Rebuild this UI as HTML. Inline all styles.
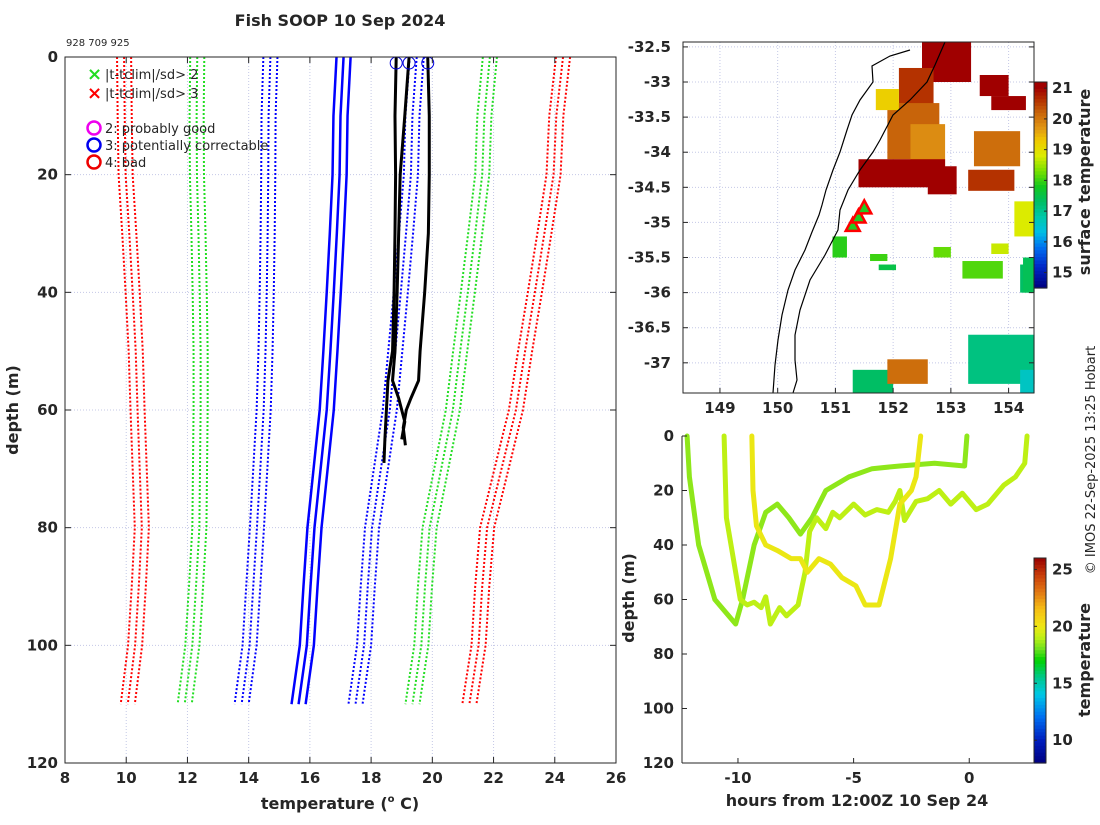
<!DOCTYPE html>
<html><head><meta charset="utf-8"><style>
html,body{margin:0;padding:0;background:#fff}
svg text{font-family:"DejaVu Sans","Liberation Sans",sans-serif;fill:#262626}
.tk{font-size:15px;font-weight:bold}
.lb{font-size:16px;font-weight:bold}
</style></head><body>
<svg id="fig" width="1100" height="820" viewBox="0 0 1100 820" xmlns="http://www.w3.org/2000/svg">
<rect width="1100" height="820" fill="#fff"/>
<text x="340" y="26" text-anchor="middle" font-size="16" font-weight="bold">Fish SOOP 10 Sep 2024</text>
<text x="66" y="46" font-size="10">928 709 925</text>
<g id="left"></g>
<g id="map"></g>
<g id="track"></g>
<text transform="translate(1095,460) rotate(-90)" text-anchor="middle" font-size="13">© IMOS 22-Sep-2025 13:25 Hobart</text>
</svg>
<script>
// ---------- DATA ----------
const climDepths=[0,10,20,30,40,50,60,70,80,90,100,110];
const climMean=[17.1,17.0,16.97,16.88,16.78,16.67,16.55,16.35,16.15,16.02,15.9,15.63];
const climSd=[2.39,2.35,2.33,2.26,2.19,2.12,2.06,1.97,1.88,1.87,1.87,1.86];
const sdMultipliers=[0,1,2,3];
const prof1Depth=[0,5,10,20,30,40,50,55,60,65,69];
const prof1Temp=[18.82,18.8,18.78,18.8,18.78,18.75,18.7,18.55,18.5,18.45,18.42];
const prof2Depth=[0,10,20,30,40,50,55,58,62,65];
const prof2Temp=[19.24,19.1,18.95,18.9,18.85,18.78,18.7,18.9,19.1,19.0];
const prof3Depth=[0,10,20,30,40,50,55,58,60,63,66];
const prof3Temp=[19.85,19.9,19.9,19.87,19.75,19.6,19.55,19.3,19.15,19.05,19.12];
const tempTicks=[8,10,12,14,16,18,20,22,24,26];
const depthTicks=[0,20,40,60,80,100,120];

const lonTicks=[149,150,151,152,153,154];
const latTicks=[-32.5,-33,-33.5,-34,-34.5,-35,-35.5,-36,-36.5,-37];
const sstCbTicks=[15,16,17,18,19,20,21];
// SST patches: lon0, lon1, lat0, lat1, temperature
const sstLon0=[152.5,153.0,152.1,151.9,151.7,152.3,151.4,152.6,153.5,153.7,153.4,153.3,154.1,153.2,154.2,153.3,154.2,151.3,151.9,150.95,151.6,154.25,151.75,153.7,152.7];
const sstLon1=[153.2,153.35,152.7,152.8,152.1,152.9,152.9,153.1,154.0,154.3,154.2,154.1,154.45,153.9,154.45,154.45,154.45,152.0,152.6,151.2,151.9,154.45,152.05,154.0,153.0];
const sstLat0=[-32.43,-32.43,-32.8,-33.3,-33.1,-33.6,-34.1,-34.2,-32.9,-33.2,-33.7,-34.25,-34.7,-35.55,-35.6,-36.6,-37.1,-37.1,-36.95,-35.2,-35.45,-35.5,-35.6,-35.3,-35.35];
const sstLat1=[-33.0,-33.0,-33.4,-34.1,-33.4,-34.2,-34.5,-34.6,-33.2,-33.4,-34.2,-34.55,-35.2,-35.8,-36.0,-37.3,-37.43,-37.43,-37.3,-35.5,-35.55,-36.0,-35.68,-35.45,-35.5];
const sstTemp=[21,21,20.6,20.2,19.2,19.8,21,21,21,21,20.1,20.6,18.8,18.1,17.3,17.1,16.6,17.3,20.1,17.9,18.0,17.4,17.5,18.7,18.2];
const shipLon=[151.3,151.4,151.5];
const shipLat=[-35.05,-34.93,-34.8];

const timeTicks=[-10,-5,0];
const trDepthTicks=[0,20,40,60,80,100,120];
const trCbTicks=[10,15,20,25];
const trackATime=[-12.2,-12.1,-11.7,-11.0,-10.5,-10.1,-9.8,-9.3,-8.8,-8.3,-7.8,-7.3,-6.8,-6.2,-5.2,-4.2,-3,-1.5,-0.2,-0.1];
const trackADepth=[0,15,40,60,65,69,60,40,28,25,30,36,30,20,15,12,11,10,11,0];
const trackBTime=[-10.6,-10.5,-10.2,-9.9,-9.6,-9.3,-9.0,-8.8,-8.6,-8.2,-7.9,-7.4,-7.1,-6.9,-6.6,-6.2,-5.9,-5.6,-5.0,-4.5,-4.0,-3.5,-3.2,-3.0,-2.8,-2.3,-1.8,-1.3,-0.8,-0.3,0.3,0.8,1.5,2.0,2.4,2.5];
const trackBDepth=[0,30,45,60,62,61,63,59,69,63,66,62,50,35,30,34,28,30,25,29,27,28,24,20,31,24,23,20,25,21,27,25,18,15,10,0];
const trackCTime=[-9.4,-9.35,-9.2,-8.8,-8.3,-7.7,-7.3,-7.0,-6.5,-6.0,-5.5,-4.9,-4.5,-3.9,-3.4,-3.0,-2.5,-2.3,-2.1];
const trackCDepth=[0,20,33,40,42,45,45,50,45,47,52,55,62,62,45,25,20,15,0];
const trackTempA=18.4, trackTempB=19.0, trackTempC=19.9;

// ---------- helpers ----------
const NS="http://www.w3.org/2000/svg";
function mk(tag,attrs,parent){const e=document.createElementNS(NS,tag);for(const k in attrs)e.setAttribute(k,attrs[k]);parent.appendChild(e);return e;}
function interpColor(stops,v){
  if(v<=stops[0][0])return stops[0][1];
  for(let i=1;i<stops.length;i++){if(v<=stops[i][0]){const a=stops[i-1],b=stops[i],f=(v-a[0])/(b[0]-a[0]);
    const ca=a[1],cb=b[1];return ca.map((c,k)=>Math.round(c+(cb[k]-c)*f));}}
  return stops[stops.length-1][1];}
const rgb=c=>`rgb(${c[0]},${c[1]},${c[2]})`;
const sstStops=[[14.5,[0,0,128]],[15.2,[0,40,200]],[15.8,[0,110,240]],[16.3,[0,190,230]],[16.8,[0,200,170]],[17.3,[0,190,100]],[17.8,[20,200,30]],[18.3,[120,225,0]],[18.8,[220,235,0]],[19.3,[240,200,0]],[19.7,[225,150,20]],[20.2,[200,100,10]],[20.6,[180,50,0]],[21,[160,0,0]]];
const trStops=[[8,[0,0,128]],[10,[0,30,190]],[12,[0,110,240]],[14,[0,200,230]],[15.5,[0,200,140]],[17,[0,210,0]],[18,[110,225,30]],[19,[190,240,20]],[20,[240,230,20]],[21.5,[245,190,20]],[23,[225,120,20]],[24.5,[200,60,10]],[26,[150,0,0]]];

// ---------- LEFT PROFILE PLOT ----------
(function(){
const g=document.getElementById('left');
const L=65,R=616,T=57,B=763;
const x=t=>L+(t-8)/18*(R-L), y=d=>T+d/120*(B-T);
tempTicks.forEach(t=>{const l=mk('line',{x1:x(t),x2:x(t),y1:T,y2:B,stroke:'#c4c8e6','stroke-dasharray':'1,2'},g);

});
depthTicks.forEach(d=>{const l=mk('line',{x1:L,x2:R,y1:y(d),y2:y(d),stroke:'#c4c8e6','stroke-dasharray':'1,2'},g);

});
const cols=['#0000ff','#0000ff','#22dd22','#ff0000'];
sdMultipliers.forEach((k,ki)=>{
  [-1,1].forEach(sg=>{ if(k===0&&sg===1)return;
    [-0.23,0,0.23].forEach(off=>{
      const pts=climDepths.map((d,i)=>x(climMean[i]+sg*k*climSd[i]+off)+','+y(d)).join(' ');
      const p=mk('polyline',{points:pts,fill:'none',stroke:cols[ki],'stroke-width':k===0?2.5:2,'stroke-dasharray':k===0?'':'2,2'},g);
      
      
    });
  });
});
[[prof1Depth,prof1Temp],[prof2Depth,prof2Temp],[prof3Depth,prof3Temp]].forEach(([ds,ts],i)=>{
  const p=mk('polyline',{points:ds.map((d,j)=>x(ts[j])+','+y(d)).join(' '),fill:'none',stroke:'#000','stroke-width':3},g);
  
  
  const c=mk('circle',{cx:x(ts[0]),cy:T+6,r:6,fill:'none',stroke:'#0000dd','stroke-width':1},g);
  
  
});
mk('rect',{x:L,y:T,width:R-L,height:B-T,fill:'none',stroke:'#262626','stroke-width':1},g);
tempTicks.forEach(t=>{mk('line',{x1:x(t),x2:x(t),y1:B,y2:B-6,stroke:'#262626'},g);mk('line',{x1:x(t),x2:x(t),y1:T,y2:T+6,stroke:'#262626'},g);
  const tx=mk('text',{x:x(t),y:B+20,'text-anchor':'middle',class:'tk'},g);tx.textContent=t;
  
  });
depthTicks.forEach(d=>{mk('line',{x1:L,x2:L+6,y1:y(d),y2:y(d),stroke:'#262626'},g);mk('line',{x1:R,x2:R-6,y1:y(d),y2:y(d),stroke:'#262626'},g);
  const tx=mk('text',{x:L-7,y:y(d)+5,'text-anchor':'end',class:'tk'},g);tx.textContent=d;
  
  });
const xl=mk('text',{x:340,y:809,'text-anchor':'middle',class:'lb'},g);xl.innerHTML='temperature (<tspan font-size="10" dy="-7">o</tspan><tspan dy="7"> C)</tspan>';


const yl=mk('text',{transform:'translate(18,410) rotate(-90)','text-anchor':'middle',class:'lb'},g);yl.textContent='depth (m)';


// legend
const lg=mk('g',{},g);


[['×','#22dd22','|t-tclim|/sd> 2',74],['×','#ff0000','|t-tclim|/sd> 3',93]].forEach(a=>{
  const m=mk('text',{x:87,y:a[3]+6,'font-size':18,'font-weight':'bold',fill:a[1]},lg);m.style.fill=a[1];m.textContent=a[0];
  const t=mk('text',{x:105,y:a[3]+5,'font-size':13},lg);t.textContent=a[2];
  
  });
[['#ee00ee','2: probably good',128],['#0000ee','3: potentially correctable',145],['#ee0000','4: bad',162]].forEach(a=>{
  mk('circle',{cx:94,cy:a[2],r:6.5,fill:'none',stroke:a[0],'stroke-width':2.5},lg);
  const t=mk('text',{x:105,y:a[2]+5,'font-size':13},lg);t.textContent=a[1];
  
  });
})();

// ---------- MAP ----------
(function(){
const g=document.getElementById('map');
const L=683,R=1034,T=42,B=393;
const lon0=148.36,lon1=154.44,lat0=-32.43,lat1=-37.43;
const x=lo=>L+(lo-lon0)/(lon1-lon0)*(R-L), y=la=>T+(la-lat0)/(lat1-lat0)*(B-T);
lonTicks.forEach(v=>mk('line',{x1:x(v),x2:x(v),y1:T,y2:B,stroke:'#c4c8e6','stroke-dasharray':'1,2'},g));
latTicks.forEach(v=>mk('line',{x1:L,x2:R,y1:y(v),y2:y(v),stroke:'#c4c8e6','stroke-dasharray':'1,2'},g));
sstTemp.forEach((t,i)=>{
  const r=mk('rect',{x:x(sstLon0[i]),y:y(sstLat0[i]),width:x(sstLon1[i])-x(sstLon0[i]),height:y(sstLat1[i])-y(sstLat0[i]),fill:rgb(interpColor(sstStops,t))},g);
  
  });
const coast=mk('polyline',{points:'910,50 890,56 872,66 873,82 860,100 852,115 847,130 840,152 833,170 826,190 822,205 819,215 812,232 805,250 795,270 788,290 782,315 778,340 775,365 773,393',fill:'none',stroke:'#000','stroke-width':1.2},g);


const iso=mk('polyline',{points:'945,42 935,65 927,82 910,100 893,115 880,140 873,152 860,170 848,190 840,210 838,230 825,255 810,280 800,310 795,335 795,360 797,380 793,393',fill:'none',stroke:'#000','stroke-width':1.2},g);


shipLon.forEach((lo,i)=>{const cx=x(lo),cy=y(shipLat[i]);
  const p=mk('polygon',{points:`${cx},${cy-8} ${cx-7},${cy+5} ${cx+7},${cy+5}`,fill:'#22cc22',stroke:'#ff0000','stroke-width':2.5},g);
  
  });
mk('rect',{x:L,y:T,width:R-L,height:B-T,fill:'none',stroke:'#262626'},g);
lonTicks.forEach(v=>{mk('line',{x1:x(v),x2:x(v),y1:B,y2:B-5,stroke:'#262626'},g);
  const t=mk('text',{x:x(v),y:B+20,'text-anchor':'middle',class:'tk'},g);t.textContent=v;
  
  });
latTicks.forEach(v=>{mk('line',{x1:L,x2:L+5,y1:y(v),y2:y(v),stroke:'#262626'},g);mk('line',{x1:R,x2:R-5,y1:y(v),y2:y(v),stroke:'#262626'},g);
  const t=mk('text',{x:L-12,y:y(v)+5,'text-anchor':'end',class:'tk'},g);t.textContent=v;
  
  });
// colorbar
const cT=82,cB=288,cx0=1034,cw=13;
const cy=v=>cB-(v-14.5)/(21.2-14.5)*(cB-cT);
const cb=mk('g',{},g);


for(let i=0;i<60;i++){const v=21.2-(i+0.5)/60*(21.2-14.5);mk('rect',{x:cx0,y:cT+i*(cB-cT)/60,width:cw,height:(cB-cT)/60+0.6,fill:rgb(interpColor(sstStops,v))},cb);}
mk('rect',{x:cx0,y:cT,width:cw,height:cB-cT,fill:'none',stroke:'#262626'},cb);
sstCbTicks.forEach(v=>{mk('line',{x1:cx0+cw,x2:cx0+cw-3,y1:cy(v),y2:cy(v),stroke:'#262626'},cb);
  const t=mk('text',{x:1052,y:cy(v)+5,class:'tk'},cb);t.textContent=v;
  
  });
const tl=mk('text',{transform:'translate(1090,182) rotate(-90)','text-anchor':'middle',class:'lb'},g);tl.textContent='surface temperature';


})();

// ---------- TRACK PLOT ----------
(function(){
const g=document.getElementById('track');
const L=682,R=1034,T=436,B=763;
const x=h=>L+(h+12.42)/(2.8+12.42)*(R-L), y=d=>T+d/120*(B-T);
const cmin=8,cmax=26;
[[trackATime,trackADepth,trackTempA],[trackBTime,trackBDepth,trackTempB],[trackCTime,trackCDepth,trackTempC]].forEach(([ts,ds,tmp],i)=>{
  const p=mk('polyline',{points:ts.map((t,j)=>x(t)+','+y(ds[j])).join(' '),fill:'none',stroke:rgb(interpColor(trStops,tmp)),'stroke-width':5,'stroke-linejoin':'round','stroke-linecap':'round'},g);
  
  });
mk('line',{x1:L,x2:L,y1:T,y2:B,stroke:'#262626'},g);
mk('line',{x1:L,x2:R,y1:B,y2:B,stroke:'#262626'},g);
timeTicks.forEach(v=>{mk('line',{x1:x(v),x2:x(v),y1:B,y2:B-5,stroke:'#262626'},g);
  const t=mk('text',{x:x(v),y:B+20,'text-anchor':'middle',class:'tk'},g);t.textContent=v;
  
  });
trDepthTicks.forEach(v=>{mk('line',{x1:L,x2:L+5,y1:y(v),y2:y(v),stroke:'#262626'},g);
  const t=mk('text',{x:L-8,y:y(v)+5,'text-anchor':'end',class:'tk'},g);t.textContent=v;
  
  });
const xl=mk('text',{x:857,y:806,'text-anchor':'middle',class:'lb'},g);xl.textContent='hours from 12:00Z 10 Sep 24';


const yl=mk('text',{transform:'translate(634,598) rotate(-90)','text-anchor':'middle',class:'lb'},g);yl.textContent='depth (m)';


const cT=558,cB=763,cx0=1034,cw=12;
const cy=v=>cB-(v-cmin)/(cmax-cmin)*(cB-cT);
const cb=mk('g',{},g);


for(let i=0;i<60;i++){const v=cmax-(i+0.5)/60*(cmax-cmin);mk('rect',{x:cx0,y:cT+i*(cB-cT)/60,width:cw,height:(cB-cT)/60+0.6,fill:rgb(interpColor(trStops,v))},cb);}
mk('rect',{x:cx0,y:cT,width:cw,height:cB-cT,fill:'none',stroke:'#262626'},cb);
trCbTicks.forEach(v=>{mk('line',{x1:cx0,x2:cx0+3,y1:cy(v),y2:cy(v),stroke:'#262626'},cb);
  const t=mk('text',{x:1052,y:cy(v)+5,class:'tk'},cb);t.textContent=v;
  
  });
const tl=mk('text',{transform:'translate(1090,660) rotate(-90)','text-anchor':'middle',class:'lb'},g);tl.textContent='temperature';


})();
</script>
</body></html>
